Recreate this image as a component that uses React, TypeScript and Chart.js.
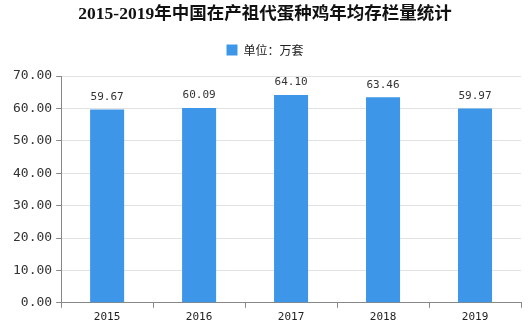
import React, { useEffect, useRef } from "react";
import { Chart, registerables } from "chart.js";
Chart.register(...registerables);

const years = ["2015", "2016", "2017", "2018", "2019"];
const stock = [59.67, 60.09, 64.1, 63.46, 59.97];
const seriesName = "单位：万套";
const titleText = "2015-2019年中国在产祖代蛋种鸡年均存栏量统计";

const labelPlugin = {
  id: "valueLabels",
  afterDatasetsDraw(chart: any) {
    const ctx = chart.ctx;
    const meta = chart.getDatasetMeta(0);
    ctx.save();
    ctx.font = "11px 'DejaVu Sans Mono'";
    ctx.fillStyle = "#333";
    ctx.textAlign = "center";
    ctx.textBaseline = "bottom";
    meta.data.forEach((bar: any, i: number) => {
      ctx.fillText(stock[i].toFixed(2), bar.x, bar.y - 7);
    });
    ctx.restore();
  },
};

export default function App() {
  const ref = useRef<HTMLCanvasElement>(null);
  useEffect(() => {
    const chart = new Chart(ref.current!, {
      type: "bar",
      data: {
        labels: years,
        datasets: [
          {
            label: seriesName,
            data: stock,
            backgroundColor: "#3D96E8",
            barPercentage: 0.37,
            categoryPercentage: 1,
          },
        ],
      },
      options: {
        animation: false,
        responsive: false,
        layout: { padding: { left: 9, right: 10, top: 2, bottom: 1 } },
        plugins: {
          title: {
            display: true,
            text: titleText,
            font: { family: "'Liberation Serif', 'Noto Sans CJK SC'", size: 17.5, weight: "bold" },
            color: "#111",
            padding: { top: 2, bottom: 0 },
          },
          legend: {
            display: true,
            labels: {
              boxWidth: 11,
              boxHeight: 11,
              font: { family: "'Noto Sans CJK SC'", size: 12 },
              color: "#222",
              padding: 19,
            },
          },
          tooltip: { enabled: false },
        },
        scales: {
          x: {
            grid: {
              offset: true,
              display: true,
              drawOnChartArea: false,
              drawTicks: true,
              tickLength: 5,
              color: "#888",
            },
            border: { color: "#888" },
            ticks: { font: { family: "'DejaVu Sans Mono'", size: 11 }, color: "#222", padding: 3 },
          },
          spacer: {
            type: "category",
            position: "top",
            display: true,
            grid: { display: false, drawTicks: false },
            border: { display: false },
            ticks: { display: false },
            afterFit: (s: any) => {
              s.height = 10;
            },
          },
          y: {
            min: 0,
            max: 70,
            grid: { color: "#e2e2e2", tickLength: 5, tickColor: "#888" },
            border: { color: "#888" },
            ticks: {
              stepSize: 10,
              font: { family: "'DejaVu Sans Mono'", size: 13 },
              color: "#333",
              padding: 4,
              callback: (v: any) => Number(v).toFixed(2),
            },
          },
        },
      } as any,
      plugins: [labelPlugin],
    });
    return () => chart.destroy();
  }, []);
  return (
    <div style={{ position: "fixed", left: 0, top: 0, width: 531, height: 328, background: "#fff" }}>
      <canvas ref={ref} width={531} height={328} />
    </div>
  );
}
